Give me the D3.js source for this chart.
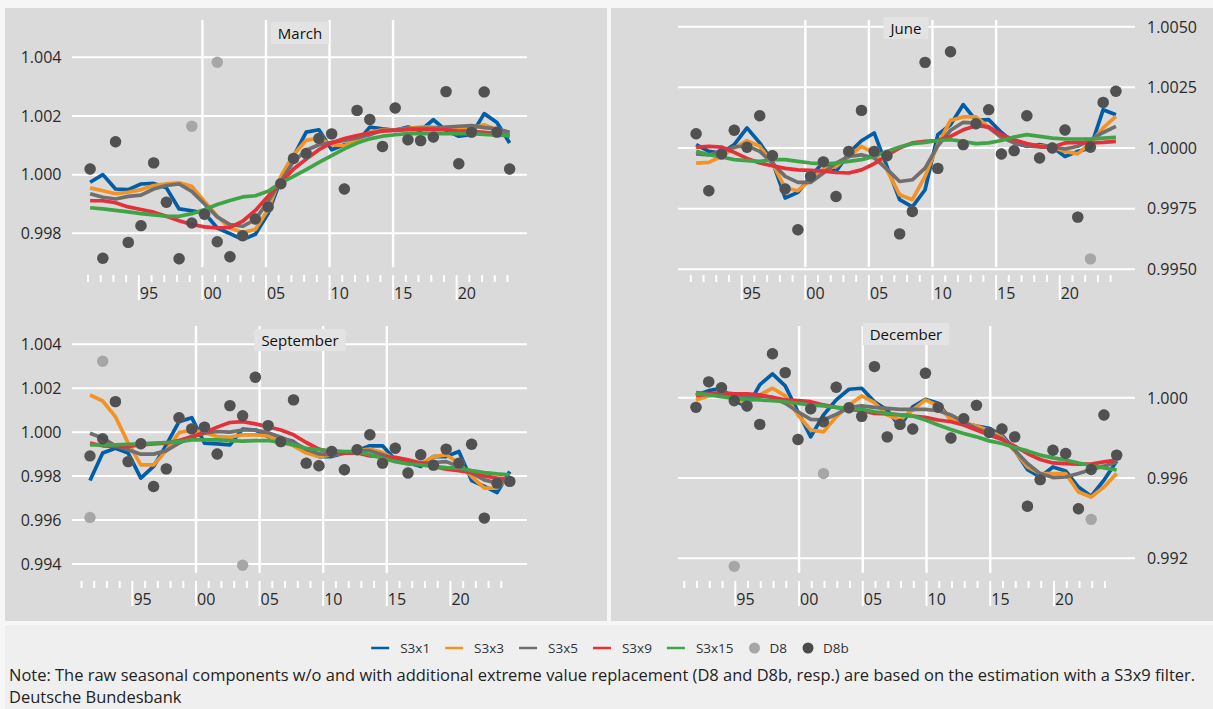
<!DOCTYPE html>
<html>
<head>
<meta charset="utf-8">
<script src="https://cdn.jsdelivr.net/npm/d3@7"></script>
<style>
  body { margin: 0; background: #f6f6f6; }
  svg { display: block; font-family: "Open Sans", "Noto Sans", sans-serif; }
</style>
</head>
<body>
<svg id="chart" width="1213" height="709"></svg>
<script>
// ---- Data -------------------------------------------------------------
const years = [1991, 1992, 1993, 1994, 1995, 1996, 1997, 1998, 1999, 2000,
  2001, 2002, 2003, 2004, 2005, 2006, 2007, 2008, 2009, 2010,
  2011, 2012, 2013, 2014, 2015, 2016, 2017, 2018, 2019, 2020,
  2021, 2022, 2023, 2024];

const seriesNames = ["S3x1", "S3x3", "S3x5", "S3x9", "S3x15"];
const xTickYears = [1995, 2000, 2005, 2010, 2015, 2020];
const xTickLabels = ["95", "00", "05", "10", "15", "20"];
const gridYears = [2000, 2005, 2010, 2015];

// March
const marS3x1 = [0.99974, 1.00000, 0.99951, 0.99949, 0.99968, 0.99970, 0.99955, 0.99883, 0.99877, 0.99869, 0.99818, 0.99799, 0.99779, 0.99797, 0.99867, 0.99983, 1.00062, 1.00145, 1.00153, 1.00085, 1.00102, 1.00110, 1.00162, 1.00156, 1.00151, 1.00162, 1.00151, 1.00187, 1.00151, 1.00131, 1.00136, 1.00208, 1.00178, 1.00108];
const marS3x3 = [0.99955, 0.99945, 0.99935, 0.99940, 0.99949, 0.99963, 0.99969, 0.99972, 0.99960, 0.99909, 0.99858, 0.99818, 0.99803, 0.99813, 0.99881, 0.99994, 1.00068, 1.00117, 1.00125, 1.00102, 1.00099, 1.00117, 1.00144, 1.00153, 1.00153, 1.00158, 1.00162, 1.00162, 1.00158, 1.00153, 1.00159, 1.00170, 1.00153, 1.00136];
const marS3x5 = [0.99935, 0.99923, 0.99917, 0.99926, 0.99930, 0.99951, 0.99963, 0.99968, 0.99943, 0.99900, 0.99856, 0.99830, 0.99824, 0.99847, 0.99909, 0.99977, 1.00045, 1.00083, 1.00102, 1.00110, 1.00117, 1.00125, 1.00136, 1.00151, 1.00153, 1.00156, 1.00158, 1.00158, 1.00162, 1.00165, 1.00167, 1.00160, 1.00156, 1.00144];
const marS3x9 = [0.99911, 0.99911, 0.99904, 0.99890, 0.99881, 0.99872, 0.99858, 0.99843, 0.99830, 0.99822, 0.99818, 0.99820, 0.99841, 0.99878, 0.99926, 0.99972, 1.00019, 1.00053, 1.00085, 1.00108, 1.00123, 1.00133, 1.00142, 1.00148, 1.00151, 1.00153, 1.00153, 1.00153, 1.00153, 1.00148, 1.00148, 1.00144, 1.00140, 1.00131];
const marS3x15 = [0.99887, 0.99883, 0.99878, 0.99873, 0.99867, 0.99863, 0.99858, 0.99858, 0.99867, 0.99881, 0.99898, 0.99912, 0.99924, 0.99928, 0.99943, 0.99972, 0.99994, 1.00017, 1.00042, 1.00065, 1.00088, 1.00108, 1.00122, 1.00131, 1.00136, 1.00140, 1.00140, 1.00140, 1.00140, 1.00140, 1.00140, 1.00137, 1.00135, 1.00133];
const marD8b = [1.00019, 0.99715, 1.00112, 0.99769, 0.99826, 1.00040, 0.99906, 0.99713, 0.99835, 0.99865, 0.99771, 0.99720, 0.99792, 0.99849, 0.99890, 0.99969, 1.00055, 1.00072, 1.00123, 1.00139, 0.99951, 1.00219, 1.00188, 1.00096, 1.00227, 1.00119, 1.00116, 1.00128, 1.00283, 1.00037, 1.00145, 1.00282, 1.00145, 1.00019];
const marD8 = [1.00019, 0.99715, 1.00112, 0.99769, 0.99826, 1.00040, 0.99906, 0.99713, 1.00165, 0.99865, 1.00383, 0.99720, 0.99792, 0.99849, 0.99890, 0.99969, 1.00055, 1.00072, 1.00123, 1.00139, 0.99951, 1.00219, 1.00188, 1.00096, 1.00227, 1.00119, 1.00116, 1.00128, 1.00283, 1.00037, 1.00145, 1.00282, 1.00145, 1.00019];
const marYTicks = [0.998, 1.000, 1.002, 1.004];

// June
const junS3x1 = [1.00014, 0.99986, 0.99979, 1.00014, 1.00083, 1.00021, 0.99945, 0.99794, 0.99817, 0.99883, 0.99941, 0.99903, 0.99979, 1.00030, 1.00062, 0.99924, 0.99787, 0.99757, 0.99828, 1.00055, 1.00096, 1.00179, 1.00114, 1.00117, 1.00064, 1.00021, 1.00007, 1.00014, 1.00004, 0.99965, 0.99986, 1.00000, 1.00158, 1.00137];
const junS3x3 = [0.99938, 0.99941, 0.99965, 1.00000, 1.00030, 1.00007, 0.99938, 0.99835, 0.99824, 0.99869, 0.99913, 0.99924, 0.99965, 1.00007, 0.99979, 0.99910, 0.99807, 0.99787, 0.99883, 1.00014, 1.00114, 1.00128, 1.00128, 1.00087, 1.00041, 1.00023, 1.00014, 1.00009, 1.00004, 0.99986, 0.99976, 1.00021, 1.00083, 1.00130];
const junS3x5 = [0.99976, 0.99972, 0.99986, 1.00004, 1.00009, 0.99986, 0.99938, 0.99883, 0.99858, 0.99858, 0.99897, 0.99938, 0.99965, 0.99972, 0.99959, 0.99913, 0.99862, 0.99869, 0.99917, 1.00009, 1.00073, 1.00106, 1.00103, 1.00083, 1.00045, 1.00021, 1.00009, 1.00004, 1.00004, 0.99996, 1.00007, 1.00034, 1.00064, 1.00089];
const junS3x9 = [1.00003, 1.00007, 1.00004, 0.99982, 0.99957, 0.99938, 0.99927, 0.99916, 0.99910, 0.99908, 0.99905, 0.99899, 0.99897, 0.99910, 0.99935, 0.99970, 1.00000, 1.00021, 1.00027, 1.00031, 1.00048, 1.00075, 1.00092, 1.00087, 1.00055, 1.00034, 1.00018, 1.00007, 1.00004, 1.00021, 1.00023, 1.00021, 1.00023, 1.00027];
const junS3x15 = [0.99986, 0.99972, 0.99963, 0.99952, 0.99948, 0.99945, 0.99952, 0.99952, 0.99945, 0.99938, 0.99935, 0.99938, 0.99945, 0.99952, 0.99965, 0.99986, 1.00004, 1.00018, 1.00023, 1.00031, 1.00034, 1.00027, 1.00018, 1.00021, 1.00031, 1.00045, 1.00055, 1.00048, 1.00041, 1.00037, 1.00037, 1.00037, 1.00041, 1.00044];
const junD8b = [1.00059, 0.99824, 0.99975, 1.00073, 1.00003, 1.00133, 0.99968, 0.99831, 0.99663, 0.99883, 0.99943, 0.99800, 0.99986, 1.00155, 0.99986, 0.99968, 0.99646, 0.99738, 1.00353, 0.99916, 1.00397, 1.00014, 1.00100, 1.00158, 0.99975, 0.99989, 1.00133, 0.99959, 1.00000, 1.00074, 0.99715, 1.00003, 1.00188, 1.00234];
const junD8 = [1.00059, 0.99824, 0.99975, 1.00073, 1.00003, 1.00133, 0.99968, 0.99831, 0.99663, 0.99883, 0.99943, 0.99800, 0.99986, 1.00155, 0.99986, 0.99968, 0.99646, 0.99738, 1.00353, 0.99916, 1.00397, 1.00014, 1.00100, 1.00158, 0.99975, 0.99989, 1.00133, 0.99959, 1.00000, 1.00074, 0.99715, 0.99543, 1.00188, 1.00234];
const junYTicks = [0.995, 0.9975, 1.000, 1.0025, 1.005];

// September
const sepS3x1 = [0.99780, 0.99905, 0.99927, 0.99905, 0.99791, 0.99844, 0.99942, 1.00048, 1.00066, 0.99950, 0.99947, 0.99942, 1.00014, 1.00010, 0.99980, 0.99973, 0.99957, 0.99912, 0.99889, 0.99889, 0.99905, 0.99916, 0.99938, 0.99938, 0.99874, 0.99862, 0.99844, 0.99889, 0.99889, 0.99912, 0.99780, 0.99753, 0.99725, 0.99821];
const sepS3x3 = [1.00170, 1.00142, 1.00071, 0.99950, 0.99851, 0.99851, 0.99916, 0.99998, 1.00010, 0.99998, 0.99980, 0.99977, 0.99988, 0.99988, 0.99983, 0.99962, 0.99938, 0.99905, 0.99889, 0.99897, 0.99905, 0.99916, 0.99923, 0.99907, 0.99877, 0.99856, 0.99856, 0.99889, 0.99897, 0.99859, 0.99798, 0.99745, 0.99745, 0.99798];
const sepS3x5 = [0.99995, 0.99973, 0.99938, 0.99920, 0.99900, 0.99900, 0.99916, 0.99950, 0.99977, 0.99995, 1.00003, 1.00000, 1.00010, 1.00010, 0.99998, 0.99977, 0.99953, 0.99923, 0.99901, 0.99897, 0.99905, 0.99916, 0.99916, 0.99897, 0.99877, 0.99862, 0.99859, 0.99862, 0.99866, 0.99844, 0.99814, 0.99783, 0.99768, 0.99783];
const sepS3x9 = [0.99950, 0.99938, 0.99935, 0.99935, 0.99942, 0.99947, 0.99950, 0.99962, 0.99980, 0.99998, 1.00023, 1.00044, 1.00048, 1.00038, 1.00025, 1.00010, 0.99988, 0.99953, 0.99923, 0.99907, 0.99905, 0.99905, 0.99892, 0.99889, 0.99886, 0.99874, 0.99859, 0.99844, 0.99832, 0.99825, 0.99816, 0.99801, 0.99791, 0.99786];
const sepS3x15 = [0.99942, 0.99942, 0.99942, 0.99945, 0.99947, 0.99950, 0.99953, 0.99957, 0.99965, 0.99965, 0.99965, 0.99962, 0.99959, 0.99962, 0.99962, 0.99953, 0.99942, 0.99927, 0.99920, 0.99916, 0.99912, 0.99912, 0.99897, 0.99882, 0.99866, 0.99856, 0.99851, 0.99844, 0.99839, 0.99836, 0.99825, 0.99816, 0.99810, 0.99806];
const sepD8b = [0.99892, 0.99970, 1.00139, 0.99866, 0.99947, 0.99753, 0.99833, 1.00066, 1.00015, 1.00023, 0.99901, 1.00121, 1.00075, 1.00250, 1.00030, 0.99957, 1.00147, 0.99859, 0.99847, 0.99912, 0.99829, 0.99920, 0.99988, 0.99859, 0.99927, 0.99814, 0.99897, 0.99850, 0.99923, 0.99859, 0.99945, 0.99609, 0.99768, 0.99776];
const sepD8 = [0.99612, 1.00323, 1.00139, 0.99866, 0.99947, 0.99753, 0.99833, 1.00066, 1.00015, 1.00023, 0.99901, 1.00121, 0.99394, 1.00250, 1.00030, 0.99957, 1.00147, 0.99859, 0.99847, 0.99912, 0.99829, 0.99920, 0.99988, 0.99859, 0.99927, 0.99814, 0.99897, 0.99850, 0.99923, 0.99859, 0.99945, 0.99609, 0.99768, 0.99776];
const sepYTicks = [0.994, 0.996, 0.998, 1.000, 1.002, 1.004];

// December
const decS3x1 = [1.00014, 1.00035, 1.00047, 0.99989, 0.99952, 1.00064, 1.00119, 1.00059, 0.99930, 0.99805, 0.99914, 0.99989, 1.00042, 1.00047, 0.99980, 0.99939, 0.99855, 0.99955, 0.99992, 0.99972, 0.99889, 0.99872, 0.99859, 0.99847, 0.99814, 0.99739, 0.99642, 0.99605, 0.99655, 0.99635, 0.99555, 0.99509, 0.99589, 0.99685];
const decS3x3 = [0.99989, 1.00009, 1.00019, 0.99992, 0.99972, 1.00014, 1.00047, 1.00009, 0.99914, 0.99839, 0.99830, 0.99905, 0.99964, 1.00009, 0.99975, 0.99914, 0.99889, 0.99939, 0.99989, 0.99959, 0.99892, 0.99875, 0.99859, 0.99835, 0.99805, 0.99735, 0.99655, 0.99622, 0.99622, 0.99622, 0.99530, 0.99505, 0.99555, 0.99622];
const decS3x5 = [1.00025, 1.00019, 1.00014, 1.00009, 1.00005, 1.00009, 1.00002, 0.99972, 0.99930, 0.99892, 0.99889, 0.99917, 0.99952, 0.99959, 0.99952, 0.99947, 0.99942, 0.99942, 0.99942, 0.99935, 0.99914, 0.99880, 0.99847, 0.99822, 0.99797, 0.99739, 0.99672, 0.99622, 0.99602, 0.99605, 0.99622, 0.99642, 0.99659, 0.99680];
const decS3x9 = [1.00009, 1.00019, 1.00025, 1.00019, 1.00019, 1.00014, 1.00002, 0.99989, 0.99985, 0.99980, 0.99964, 0.99952, 0.99942, 0.99935, 0.99922, 0.99919, 0.99914, 0.99909, 0.99902, 0.99889, 0.99880, 0.99864, 0.99839, 0.99814, 0.99792, 0.99759, 0.99722, 0.99692, 0.99675, 0.99672, 0.99669, 0.99669, 0.99680, 0.99689];
const decS3x15 = [1.00019, 1.00014, 1.00005, 0.99997, 0.99992, 0.99989, 0.99985, 0.99980, 0.99972, 0.99964, 0.99959, 0.99952, 0.99947, 0.99942, 0.99930, 0.99922, 0.99914, 0.99909, 0.99889, 0.99864, 0.99842, 0.99822, 0.99805, 0.99785, 0.99772, 0.99752, 0.99735, 0.99714, 0.99700, 0.99690, 0.99675, 0.99662, 0.99650, 0.99640];
const decD8b = [0.99952, 1.00079, 1.00050, 0.99985, 0.99959, 0.99867, 1.00219, 1.00125, 0.99792, 0.99945, 0.99880, 1.00052, 0.99950, 0.99907, 1.00155, 0.99805, 0.99867, 0.99844, 1.00122, 0.99952, 0.99799, 0.99895, 0.99962, 0.99827, 0.99844, 0.99805, 0.99459, 0.99592, 0.99738, 0.99722, 0.99447, 0.99642, 0.99914, 0.99714];
const decD8 = [0.99952, 1.00079, 1.00050, 0.99160, 0.99959, 0.99867, 1.00219, 1.00125, 0.99792, 0.99945, 0.99622, 1.00052, 0.99950, 0.99907, 1.00155, 0.99805, 0.99867, 0.99844, 1.00122, 0.99952, 0.99799, 0.99895, 0.99962, 0.99827, 0.99844, 0.99805, 0.99459, 0.99592, 0.99738, 0.99722, 0.99447, 0.99394, 0.99914, 0.99714];
const decYTicks = [0.992, 0.996, 1.000];

const noteText = "Note: The raw seasonal components w/o and with additional extreme value replacement (D8 and D8b, resp.) are based on the estimation with a S3x9 filter.";
const sourceText = "Deutsche Bundesbank";

// ---- Styles & layout ----------------------------------------------------
const seriesColors = ["#005ea8", "#f39325", "#6f6f6f", "#e5303a", "#3fa447"];
const d8Color = "#a6a6a6";
const d8bColor = "#4a4a4a";
const panelBg = "#dadada";
const gridColor = "#ffffff";
const textColor = "#2a2a2a";

const panels = [
  { title: "March", month: 3, lines: [marS3x1, marS3x3, marS3x5, marS3x9, marS3x15], d8: marD8, d8b: marD8b,
    yTicks: marYTicks, fmt: d3.format(".3f"),
    xr: [88, 507.5], gx: [72, 527], yDom: [0.998, 1.004], yr: [233.3, 57.3], gTop: 20, gBot: 267,
    side: "left", titleX: 300, titleY: 33 },
  { title: "June", month: 6, lines: [junS3x1, junS3x3, junS3x5, junS3x9, junS3x15], d8: junD8, d8b: junD8b,
    yTicks: junYTicks, fmt: d3.format(".4f"),
    xr: [690.8, 1110.6], gx: [678, 1135], yDom: [0.995, 1.005], yr: [269.3, 26.7], gTop: 20, gBot: 267,
    side: "right", titleX: 906, titleY: 28 },
  { title: "September", month: 9, lines: [sepS3x1, sepS3x3, sepS3x5, sepS3x9, sepS3x15], d8: sepD8, d8b: sepD8b,
    yTicks: sepYTicks, fmt: d3.format(".3f"),
    xr: [81.5, 501.3], gx: [72, 527], yDom: [0.994, 1.004], yr: [564, 344.3], gTop: 326, gBot: 573,
    side: "left", titleX: 300, titleY: 340 },
  { title: "December", month: 12, lines: [decS3x1, decS3x3, decS3x5, decS3x9, decS3x15], d8: decD8, d8b: decD8b,
    yTicks: decYTicks, fmt: d3.format(".3f"),
    xr: [684.3, 1105], gx: [678, 1135], yDom: [0.992, 1.000], yr: [558.3, 397.7], gTop: 326, gBot: 573,
    side: "right", titleX: 906, titleY: 334 }
];

const svg = d3.select("#chart");

// page and panel backgrounds
svg.append("rect").attr("width", 1213).attr("height", 709).attr("fill", "#f6f6f6");
svg.append("rect").attr("x", 5).attr("y", 8).attr("width", 602).attr("height", 613).attr("fill", panelBg);
svg.append("rect").attr("x", 611).attr("y", 8).attr("width", 602).attr("height", 613).attr("fill", panelBg);
svg.append("rect").attr("x", 5).attr("y", 625).attr("width", 1208).attr("height", 84).attr("fill", "#efefef");

panels.forEach(p => {
  const g = svg.append("g");
  const x = d3.scaleLinear().domain([years[0], years[years.length - 1]]).range(p.xr);
  const y = d3.scaleLinear().domain(p.yDom).range(p.yr);
  const px = i => x(years[i] + (p.month - 1) / 12);

  // horizontal grid + value labels
  g.selectAll(".hgrid").data(p.yTicks).join("line")
    .attr("x1", p.gx[0]).attr("x2", p.gx[1])
    .attr("y1", d => y(d)).attr("y2", d => y(d))
    .attr("stroke", gridColor).attr("stroke-width", 2);
  g.selectAll(".ylab").data(p.yTicks).join("text")
    .attr("x", p.side === "left" ? 61.5 : 1147)
    .attr("y", d => y(d) + 5.8)
    .attr("text-anchor", p.side === "left" ? "end" : "start")
    .attr("font-size", 16).attr("fill", textColor)
    .text(d => p.fmt(d));

  // vertical grid
  g.selectAll(".vgrid").data(gridYears).join("line")
    .attr("x1", d => x(d)).attr("x2", d => x(d))
    .attr("y1", p.gTop).attr("y2", p.gBot)
    .attr("stroke", gridColor).attr("stroke-width", 2.4);

  // year ticks
  g.selectAll(".tick").data(years).join("line")
    .attr("x1", d => x(d)).attr("x2", d => x(d))
    .attr("y1", p.gBot + 8)
    .attr("y2", d => (d % 5 === 0 ? p.gBot + 33 : p.gBot + 15))
    .attr("stroke", gridColor).attr("stroke-width", 2);
  g.selectAll(".xlab").data(xTickYears).join("text")
    .attr("x", d => x(d) + 1)
    .attr("y", p.gBot + 32)
    .attr("font-size", 16).attr("fill", textColor)
    .text((d, i) => xTickLabels[i]);

  // title with backing box
  const t = g.append("text")
    .attr("x", p.titleX).attr("y", p.titleY + 5.5)
    .attr("text-anchor", "middle").attr("font-size", 15).attr("font-weight", 500).attr("fill", "#111")
    .text(p.title);
  const tw = t.node().getComputedTextLength();
  g.insert("rect", "text:last-of-type")
    .attr("x", p.titleX - tw / 2 - 7).attr("y", p.titleY - 11)
    .attr("width", tw + 14).attr("height", 22)
    .attr("fill", "#e3e3e3");
  t.raise();

  // filter lines
  const line = d3.line().x((d, i) => px(i)).y(d => y(d));
  p.lines.forEach((vals, k) => {
    g.append("path").datum(vals)
      .attr("d", line)
      .attr("fill", "none")
      .attr("stroke", seriesColors[k])
      .attr("stroke-width", 3.7)
      .attr("stroke-linejoin", "round")
      .attr("stroke-linecap", "butt");
  });

  // raw seasonal components
  g.selectAll(".d8").data(p.d8).join("circle")
    .attr("cx", (d, i) => px(i)).attr("cy", d => y(d)).attr("r", 5.7)
    .attr("fill", d8Color);
  g.selectAll(".d8b").data(p.d8b).join("circle")
    .attr("cx", (d, i) => px(i)).attr("cy", d => y(d)).attr("r", 5.7)
    .attr("fill", d8bColor).attr("fill-opacity", 0.92);
});

// ---- Legend -----------------------------------------------------------
const legendItems = seriesNames.map((n, i) => ({ name: n, type: "line", color: seriesColors[i] }))
  .concat([{ name: "D8", type: "dot", color: d8Color }, { name: "D8b", type: "dot", color: d8bColor }]);
const lg = svg.append("g");
let cx = 0;
legendItems.forEach(it => {
  const item = lg.append("g").attr("transform", `translate(${cx},0)`);
  let off;
  if (it.type === "line") {
    item.append("line").attr("x1", 0).attr("x2", 18).attr("y1", 0).attr("y2", 0)
      .attr("stroke", it.color).attr("stroke-width", 2.5);
    off = 29;
  } else {
    item.append("circle").attr("cx", 6).attr("cy", 0).attr("r", 5.5).attr("fill", it.color);
    off = 21;
  }
  const tx = item.append("text").attr("x", off).attr("y", 5)
    .attr("font-size", 13.5).attr("fill", "#333").text(it.name);
  cx += off + tx.node().getComputedTextLength() + 15;
});
const legendW = cx - 15;
lg.attr("transform", `translate(${610 - legendW / 2},648)`);

// ---- Note and source ----------------------------------------------------
const note = svg.append("text").attr("x", 9).attr("y", 681)
  .attr("font-size", 15).attr("fill", "#222").text(noteText);
const nw = note.node().getComputedTextLength();
note.attr("font-size", 15 * 1187 / nw);
svg.append("text").attr("x", 9).attr("y", 703)
  .attr("font-size", 15 * 1187 / nw).attr("fill", "#222").text(sourceText);
</script>
</body>
</html>
